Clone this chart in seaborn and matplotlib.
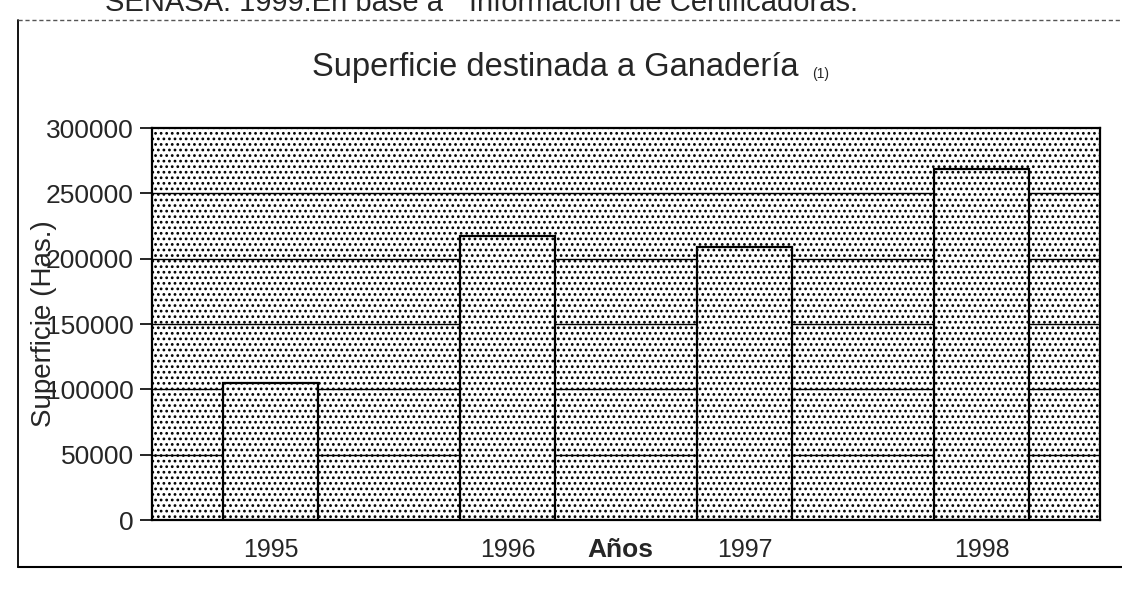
import matplotlib
matplotlib.use("Agg")
import matplotlib.pyplot as plt
import seaborn as sns
import pandas as pd
import numpy as np
from matplotlib.patches import Rectangle
from matplotlib.lines import Line2D

years = ["1995", "1996", "1997", "1998"]
superficie = [105000, 217000, 209000, 269000]
yticks = [0, 50000, 100000, 150000, 200000, 250000, 300000]
title = "Superficie destinada a Ganadería"
title_note = "(1)"
source = "SENASA. 1999.En base a  \u201cInformación de Certificadoras."
xlabel = "Años"
ylabel = "Superficie (Has.)"

sns.set_style("white")
plt.rcParams["font.family"] = ["Liberation Sans", "DejaVu Sans"]
plt.rcParams["hatch.linewidth"] = 1.2
plt.rcParams["hatch.color"] = "black"

W, H = 1122, 607
df = pd.DataFrame({"Año": years, "Superficie": superficie})

fig = plt.figure(figsize=(W / 100, H / 100), dpi=100)
ax_rect = [152 / W, 1 - 520 / H, (1100 - 152) / W, (520 - 128) / H]

# dotted texture for the whole plot area (shows through the bars too)
bg = Rectangle((ax_rect[0], ax_rect[1]), ax_rect[2], ax_rect[3],
               transform=fig.transFigure, facecolor="white",
               edgecolor="black", linewidth=0, hatch="...", zorder=-10)
fig.patches.append(bg)

ax = fig.add_axes(ax_rect)
ax.set_zorder(1)
ax.set_facecolor("none")

sns.barplot(data=df, x="Año", y="Superficie", ax=ax, width=0.4,
            color="white", edgecolor="black", linewidth=1.6, saturation=1,
            zorder=3)
bars = sorted(list(ax.patches), key=lambda p: p.get_x())
for p in bars:
    p.set_facecolor("none")

ax.set_ylim(0, 300000)
ax.set_xlim(-0.5, len(years) - 0.5)
xmin, xmax = ax.get_xlim()

# horizontal gridlines, hidden where a bar covers them
for v in yticks[1:-1]:
    cur = xmin
    for p in bars:
        if p.get_height() >= v:
            ax.hlines(v, cur, p.get_x(), color="black", lw=1.0, zorder=1)
            cur = p.get_x() + p.get_width()
    ax.hlines(v, cur, xmax, color="black", lw=1.0, zorder=1)

ax.set_yticks(yticks)
ax.set_yticklabels([str(v) for v in yticks], fontsize=19)

ax.set_xticks(range(len(years)))
ax.set_xticklabels(years, fontsize=18)
ax.set_xticks(np.arange(-0.5, len(years), 1.0), minor=True)
ax.tick_params(axis="x", which="major", length=0, pad=13)
ax.tick_params(axis="x", which="minor", length=9, width=1.2, direction="out", color="black")
ax.tick_params(axis="y", length=9, width=1.2, direction="out", color="black", pad=4, left=True)

ax.set_xlabel(xlabel, fontsize=19, fontweight="bold")
ax.xaxis.set_label_coords(0.494, -0.045)
ax.set_ylabel(ylabel, fontsize=20)
ax.yaxis.set_label_coords(-0.1, 0.5)

for s in ax.spines.values():
    s.set_visible(True)
    s.set_color("black")
    s.set_linewidth(1.6)

# title with small note
t = fig.text(312 / W, 1 - 76 / H, title, fontsize=23.5, ha="left", va="baseline")
fig.canvas.draw()
bb = t.get_window_extent()
fig.text((bb.x1 + 14) / W, 1 - 78 / H, title_note, fontsize=10, ha="left", va="baseline")

# source line at top (cut by the page edge)
fig.text(105 / W, 1 - 11 / H, source, fontsize=21, ha="left", va="baseline")

# outer chart frame
fig.lines.append(Line2D([18 / W, 18 / W], [1 - 20 / H, 1 - 567 / H],
                        transform=fig.transFigure, color="black", lw=1.3))
fig.lines.append(Line2D([18 / W, 1.0], [1 - 567 / H, 1 - 567 / H],
                        transform=fig.transFigure, color="black", lw=1.5))
fig.lines.append(Line2D([18 / W, 1.0], [1 - 20 / H, 1 - 20 / H],
                        transform=fig.transFigure, color="#555555", lw=1.0,
                        linestyle=(0, (3, 2))))

fig.savefig("out.png", dpi=100, facecolor="white")
